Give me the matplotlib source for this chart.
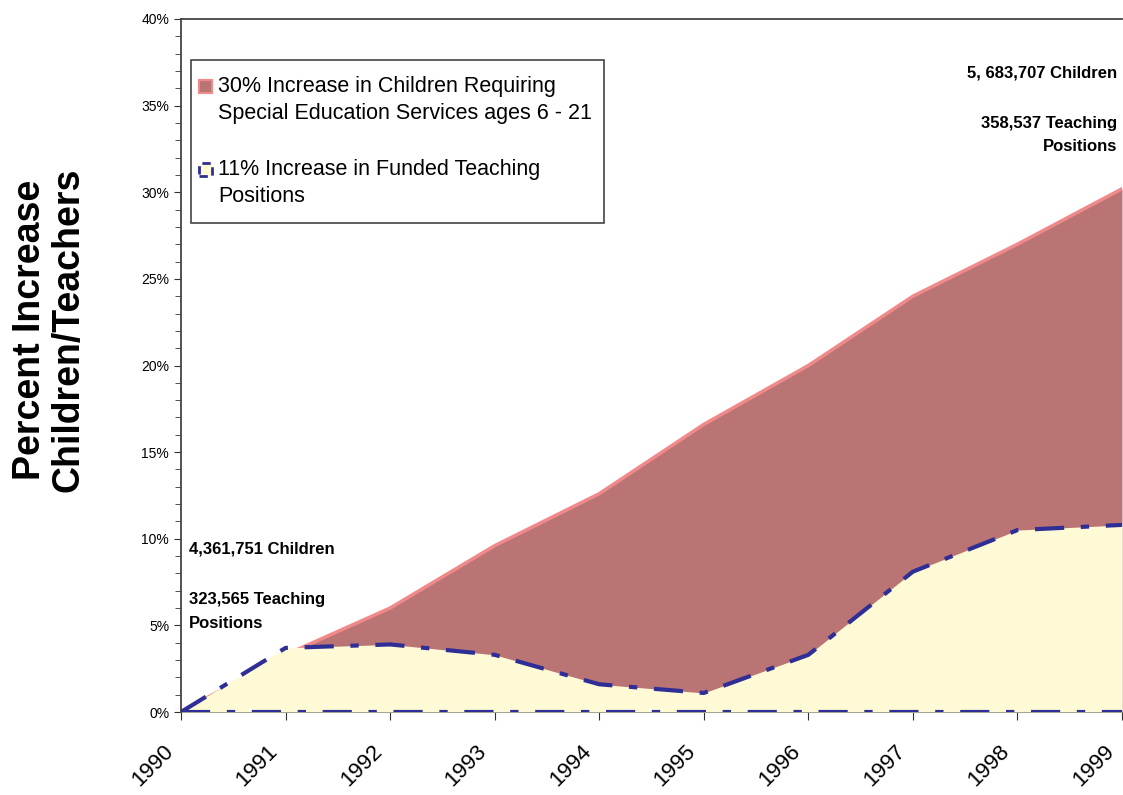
import matplotlib.pyplot as plt
from matplotlib.ticker import MultipleLocator, FuncFormatter
from matplotlib.patches import Rectangle
from matplotlib.transforms import ScaledTranslation

years = [1990, 1991, 1992, 1993, 1994, 1995, 1996, 1997, 1998, 1999]
children = [0.0, 3.3, 6.0, 9.6, 12.6, 16.6, 20.0, 24.0, 27.0, 30.2]
teachers = [0.0, 3.7, 3.9, 3.3, 1.6, 1.1, 3.3, 8.1, 10.5, 10.8]

red_fill = '#BA7474'
red_edge = '#F08A8A'
yellow_fill = '#FEFAD6'
navy = '#2E2E96'

plt.rcParams['font.family'] = ['Liberation Sans', 'DejaVu Sans']

W, H = 1123, 795
fig = plt.figure(figsize=(W / 100, H / 100), dpi=100)
ax = fig.add_axes([181 / W, 1 - 712 / H, 941 / W, 693 / H])

ax.fill_between(years, 0, children, color=red_fill, lw=0, zorder=1)
ax.plot(years, children, color=red_edge, lw=2.5, zorder=2)
ax.fill_between(years, 0, teachers, color=yellow_fill, lw=0, zorder=3)
ax.plot(years, teachers, color=navy, lw=3, dashes=(7, 4, 2, 4), zorder=4)
ax.plot([years[0], years[-1]], [0, 0], color=navy, lw=3, dashes=(7, 4, 2, 4), zorder=4)

ax.set_xlim(1990, 1999)
ax.set_ylim(0, 40)
ax.set_xticks(years)
ax.set_xticklabels([])
# year labels placed by hand, a bit left of each tick like the original
lab_tr = ax.get_xaxis_transform() + ScaledTranslation(-8 / 72, -26 / 72, fig.dpi_scale_trans)
for y in years:
    ax.text(y, 0, str(y), transform=lab_tr, rotation=45, ha='right', va='center',
            rotation_mode='anchor', fontsize=16)
ax.yaxis.set_major_locator(MultipleLocator(5))
ax.yaxis.set_minor_locator(MultipleLocator(1))
ax.yaxis.set_major_formatter(FuncFormatter(lambda v, p: '%d%%' % v))
ax.tick_params(axis='y', labelsize=10, length=5, color='#333333')
ax.tick_params(axis='y', which='minor', length=4, color='#333333')
ax.tick_params(axis='x', length=6, color='#333333')
ax.spines['right'].set_visible(False)
for s in ['left', 'bottom', 'top']:
    ax.spines[s].set_color('#444444')
    ax.spines[s].set_linewidth(1.3)

fig.text(49 / W, 1 - 330 / H, 'Percent Increase\nChildren/Teachers', rotation=90,
         ha='center', va='center', fontsize=27, fontweight='bold', linespacing=1.1)

ax.text(1990.08, 9.4, '4,361,751 Children', fontsize=12, fontweight='bold', va='center')
ax.text(1990.08, 5.8, '323,565 Teaching\nPositions', fontsize=12, fontweight='bold',
        va='center', linespacing=1.7)
ax.text(1998.95, 36.9, '5, 683,707 Children', fontsize=12, fontweight='bold',
        va='center', ha='right')
ax.text(1998.95, 33.3, '358,537 Teaching\nPositions', fontsize=12, fontweight='bold',
        va='center', ha='right', linespacing=1.7)

# legend drawn by hand to match the boxed layout
fig.patches.append(Rectangle((191 / W, 1 - 223 / H), 413 / W, 163 / H,
                             transform=fig.transFigure, facecolor='white',
                             edgecolor='#444444', lw=1.2, zorder=5))
fig.patches.append(Rectangle((199 / W, 1 - 93 / H), 13 / W, 13 / H,
                             transform=fig.transFigure, facecolor=red_fill,
                             edgecolor=red_edge, lw=1.5, zorder=6))
fig.patches.append(Rectangle((199 / W, 1 - 176 / H), 13 / W, 13 / H,
                             transform=fig.transFigure, facecolor=yellow_fill,
                             edgecolor=navy, lw=2, linestyle=(0, (3, 2)), zorder=6))
fig.text(218 / W, 1 - 100 / H,
         '30% Increase in Children Requiring\nSpecial Education Services ages 6 - 21',
         fontsize=15.5, va='center', ha='left', linespacing=1.35, zorder=7)
fig.text(218 / W, 1 - 183 / H, '11% Increase in Funded Teaching\nPositions',
         fontsize=15.5, va='center', ha='left', linespacing=1.35, zorder=7)

fig.savefig('out.png', dpi=100)
